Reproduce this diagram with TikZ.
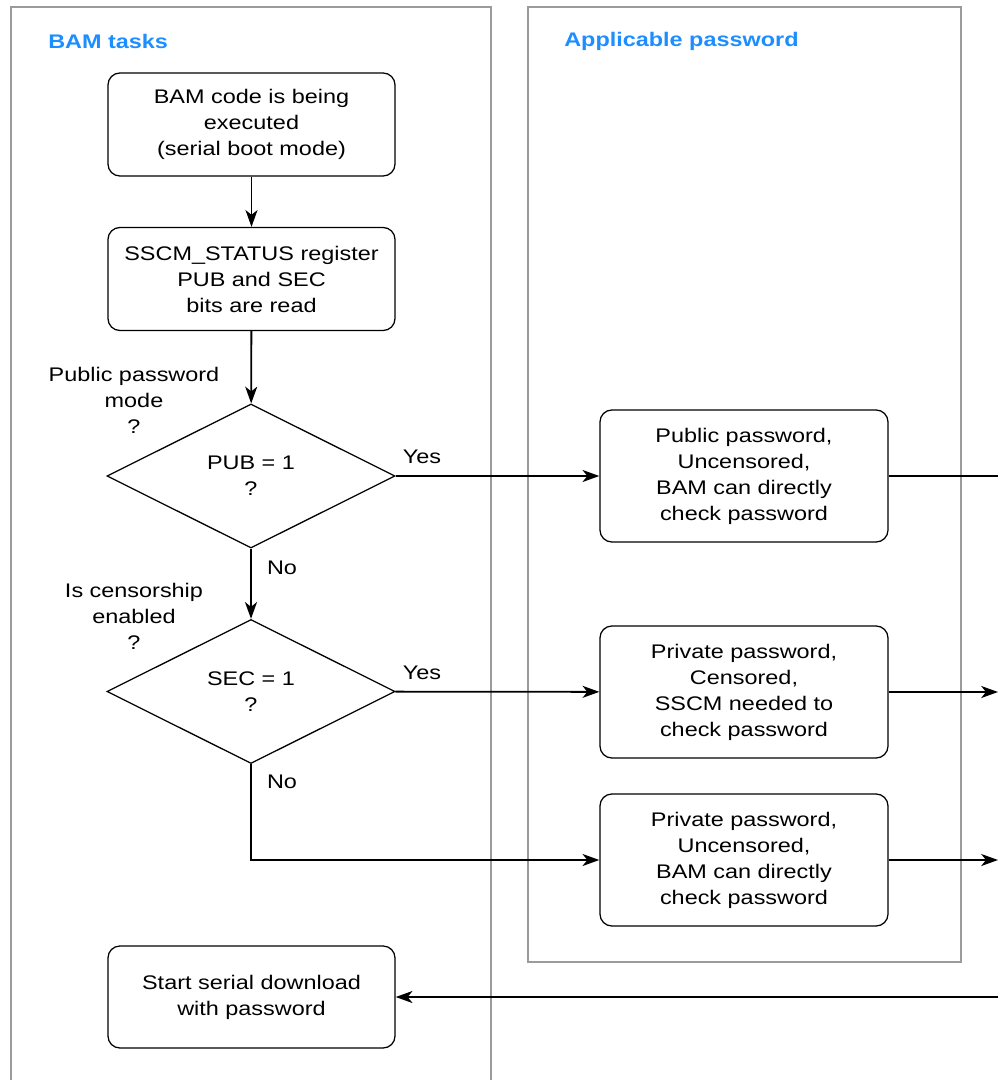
\documentclass[tikz,border=0pt]{standalone}
\usepackage{fontspec}
\setmainfont{Liberation Sans}[FakeStretch=1.19]
\usepackage{tikz}
\usetikzlibrary{arrows.meta,shapes.geometric}
\definecolor{framegray}{RGB}{155,155,155}
\definecolor{headblue}{RGB}{28,142,255}

\begin{document}
\begin{tikzpicture}[x=0.025cm, y=-0.025cm,
		every node/.style={font=\fontsize{14}{18.5}\selectfont, align=center},
		task/.style={draw, line width=0.9pt, rounded corners=0.3cm, inner sep=0pt, minimum width=7.175cm, minimum height=2.575cm},
		pwd/.style={task, minimum width=7.2cm, minimum height=3.3cm},
		decision/.style={draw, line width=0.9pt, diamond, inner sep=0pt, minimum width=7.2cm, minimum height=3.6cm},
		frame/.style={draw=framegray, line width=1.4pt},
		header/.style={anchor=west, inner sep=0pt, text=headblue, font=\fontsize{14}{18.5}\selectfont\bfseries},
		flow/.style={line width=1.3pt, -{Stealth[length=0.42cm, width=0.3cm, inset=0.12cm]}}]
		\useasboundingbox (0,0) rectangle (998,1080);
		\clip (0,0) rectangle (998,1080);
		% lanes
		\draw[frame] (11,1090) -- (11,7) -- (491,7) -- (491,1090);
		\draw[frame] (528,7) rectangle (961,962);
		\node[header] (bamhead) at (48,41) {BAM tasks};
		\node[header] (pwdhead) at (564,41) {Applicable password};
		% BAM tasks
		\node[task] (exec) at (251.5,124.5) {BAM code is being\\executed\\(serial boot mode)};
		\node[task] (status) at (251.5,279) {SSCM\_STATUS register\\PUB and SEC\\bits are read};
		\node[decision] (pub) at (251,476) {PUB = 1\\?};
		\node[decision] (sec) at (251,691.5) {SEC = 1\\?};
		\node[task, minimum height=2.55cm] (start) at (251.5,997) {Start serial download\\with password};
		\node (pubq) at (134,400) {Public password\\mode\\?};
		\node (secq) at (134,616) {Is censorship\\enabled\\?};
		% applicable password
		\node[pwd] (public) at (744,476) {Public password,\\Uncensored,\\BAM can directly\\ check password};
		\node[pwd] (private) at (744,692) {Private password,\\Censored,\\SSCM needed to\\ check password};
		\node[pwd] (privunc) at (744,860) {Private password,\\Uncensored,\\BAM can directly\\ check password};
		% labels
		\node (yes1) at (422,457) {Yes};
		\node (yes2) at (422,673) {Yes};
		\node (no1) at (282,568) {No};
		\node (no2) at (282,782) {No};
		% connectors
		\coordinate (out1) at (1000,476);
		\coordinate (out2) at (998,692);
		\coordinate (out3) at (998,860);
		\coordinate (back) at (1000,997);
		\draw[flow] (exec) -- (status);
		\draw[flow] (status) -- (pub);
		\draw[flow] (pub) -- (public);
		\draw[line width=1.3pt] (public) -- (out1);
		\draw[flow] (pub) -- (sec);
		\draw[flow] (sec) -- (private);
		\draw[flow] (private) -- (out2);
		\draw[flow] (sec.south) |- (privunc.west);
		\draw[flow] (privunc) -- (out3);
		\draw[flow] (back) -- (start);
	\end{tikzpicture}
\end{document}
